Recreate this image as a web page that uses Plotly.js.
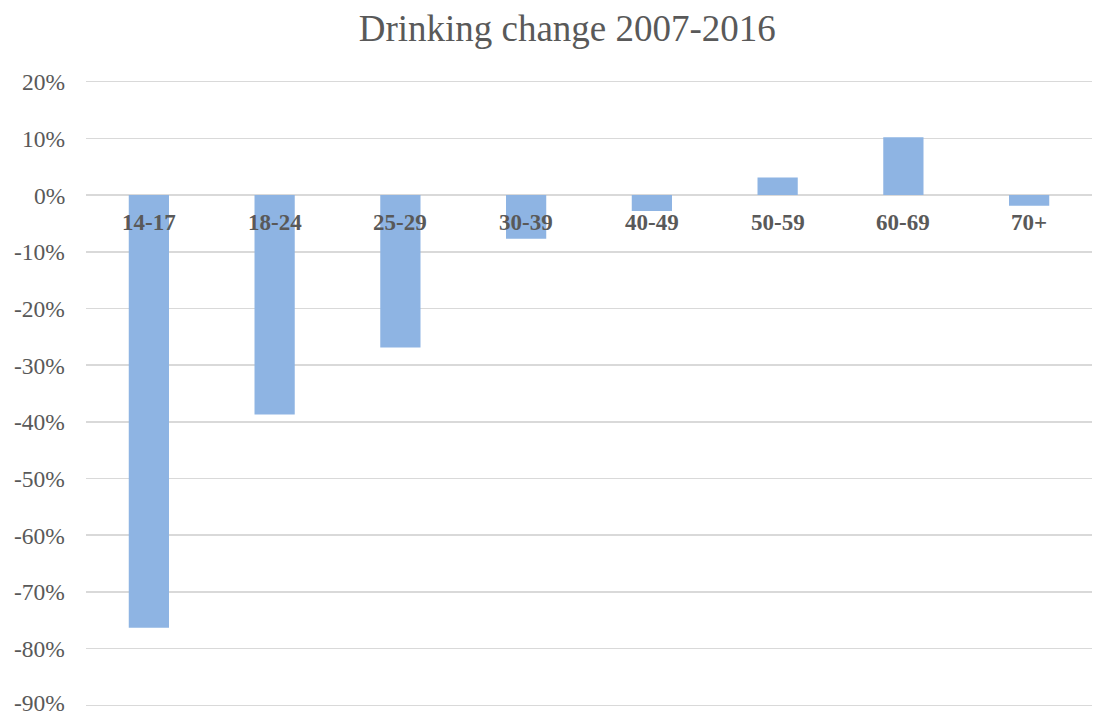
<!DOCTYPE html>
<html>
<head>
<meta charset="utf-8">
<script src="https://cdn.plot.ly/plotly-3.0.1.min.js"></script>
<style>
  html, body { margin: 0; padding: 0; background: #ffffff; }
  #chart { width: 1093px; height: 716px; }
</style>
</head>
<body>
<div id="chart"></div>
<script>
// Age groups and the change in drinking between 2007 and 2016 (percent)
const ageGroups = ['14-17', '18-24', '25-29', '30-39', '40-49', '50-59', '60-69', '70+'];
const changePct = [-76.3, -38.7, -26.9, -7.7, -2.8, 3.1, 10.2, -1.9];
const yTicks = [20, 10, 0, -10, -20, -30, -40, -50, -60, -70, -80, -90];

const textColor = '#595959';
const serif = '"Liberation Serif", "Times New Roman", serif';

const trace = {
  type: 'bar',
  x: ageGroups,
  y: changePct,
  marker: { color: '#8eb4e3' },
  width: 0.32,
  hoverinfo: 'x+y'
};

// Category labels sit just beneath the zero line
const catLabels = ageGroups.map(g => ({
  x: g, y: 0, xref: 'x', yref: 'y',
  text: '<b>' + g + '</b>',
  showarrow: false,
  yanchor: 'middle',
  yshift: -27,
  font: { family: serif, size: 23, color: textColor }
}));

// Percent labels down the left edge, one per gridline; the lowest one sits
// at the foot of the figure, so it is nudged up to stay fully on the page
const lowestTick = Math.min(...yTicks);
const tickLabels = yTicks.map(v => ({
  x: 0, xref: 'paper', y: v, yref: 'y',
  text: v + '%',
  showarrow: false,
  xanchor: 'right',
  yanchor: 'middle',
  height: 19,
  valign: 'middle',
  xshift: -19,
  yshift: v === lowestTick ? 3 : 0,
  font: { family: serif, size: 23.5, color: textColor }
}));

const layout = {
  width: 1093,
  height: 716,
  margin: { l: 86, r: 1, t: 80, b: 9 },
  paper_bgcolor: '#ffffff',
  plot_bgcolor: '#ffffff',
  showlegend: false,
  bargap: 0.68,
  title: {
    text: 'Drinking change 2007-2016',
    x: 0.519, xref: 'container', xanchor: 'center',
    y: 0.961, yref: 'container', yanchor: 'middle',
    font: { family: serif, size: 37, color: textColor }
  },
  xaxis: {
    type: 'category',
    showticklabels: false,
    showgrid: false,
    zeroline: false,
    showline: false,
    ticks: ''
  },
  yaxis: {
    range: [-90.3, 20.3],
    tickvals: yTicks,
    showticklabels: false,
    automargin: false,
    showgrid: true,
    gridcolor: '#d9d9d9',
    gridwidth: 1.5,
    zeroline: true,
    zerolinecolor: '#d9d9d9',
    zerolinewidth: 1.5,
    showline: false,
    ticks: ''
  },
  annotations: catLabels.concat(tickLabels)
};

Plotly.newPlot('chart', [trace], layout, { displayModeBar: false, staticPlot: true });
</script>
</body>
</html>
